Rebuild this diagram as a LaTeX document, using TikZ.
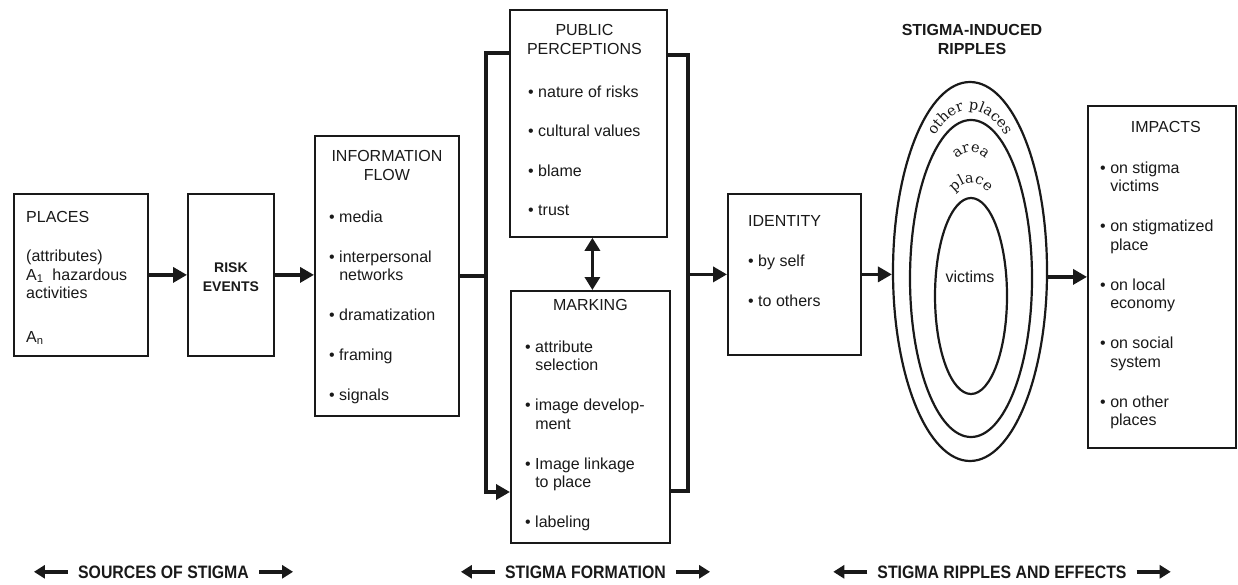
\documentclass[tikz,border=0pt]{standalone}
\usepackage{fontspec}
\setmainfont{Liberation Sans}
\newfontfamily\condfont[FakeStretch=0.88]{Liberation Sans}
\newfontfamily\ripfont{DejaVu Serif}
\usetikzlibrary{positioning,arrows.meta,shapes.geometric,decorations.text}
\colorlet{ink}{black!90}
\newcommand{\itm}{\textbullet\ }
\newcommand{\cont}{\hphantom{\textbullet\ }}
\tikzset{
    blok/.style={draw=ink,line width=1.8pt,anchor=north west,inner sep=0pt},
    ring/.style={draw=ink,ellipse,line width=2.2pt,inner sep=0pt},
    txt/.style={ink,inner sep=0pt,align=left,font=\fontsize{16}{18.5}\selectfont},
    ttl/.style={ink,inner sep=0pt,align=center,font=\fontsize{16}{19}\selectfont},
    arr/.style={ink,line width=3.5pt,-{Triangle[length=14pt,width=15pt]}},
    dbl/.style={ink,line width=3.5pt,{Triangle[length=13pt,width=15pt]}-{Triangle[length=13pt,width=15pt]}},
    brk/.style={ink,line width=4.5pt},
    side/.style={ink,line width=4pt,-{Triangle[length=11pt,width=13pt]}},
    zone/.style={ink,inner sep=0pt,anchor=base,font=\condfont\bfseries\fontsize{18}{18}\selectfont},
    curved/.style={decorate,decoration={text along path,text align=center,
        text={|\ripfont\fontsize{14.5}{14.5}\selectfont\color{ink}|#1}}}
}

\begin{document}
\begin{tikzpicture}[x=1pt,y=-1pt]
        \useasboundingbox (0,0) rectangle (1238,585);
        \node [blok,minimum width=134pt,minimum height=162pt] (places) at (13,193) {};
        \node [blok,minimum width=86pt,minimum height=162pt] (risk) at (187,193) {};
        \node [blok,minimum width=144pt,minimum height=280pt] (info) at (314,135) {};
        \node [blok,minimum width=157pt,minimum height=227pt] (pp) at (509,9) {};
        \node [blok,minimum width=159pt,minimum height=252pt] (marking) at (510,290) {};
        \node [blok,minimum width=133pt,minimum height=161pt] (identity) at (727,193) {};
        \node [blok,minimum width=148pt,minimum height=342pt] (impacts) at (1087,105) {};

        \node [txt,below right=18.5pt and 13pt of places.north west] (placestx)
            {PLACES\\[20.5pt](attributes)\\A\textsubscript{1}\ \ hazardous\\activities\\[25pt]A\textsubscript{n}};
        \node [ink,inner sep=0pt,align=center,font=\bfseries\fontsize{14}{19}\selectfont,
            yshift=-2.75pt] (risktx) at (risk.center) {RISK\\EVENTS};
        \node [ttl,below=15.5pt of info.north] (infottl) {INFORMATION\\FLOW};
        \node [txt,below right=75.3pt and 15pt of info.north west] (infotx)
            {\itm media\\[21.5pt]\itm interpersonal\\\cont networks\\[21.5pt]\itm dramatization\\[21.5pt]\itm framing\\[21.5pt]\itm signals};
        \node [ttl,below=15.5pt of pp.north,xshift=-4pt] (ppttl) {PUBLIC\\PERCEPTIONS};
        \node [txt,below right=76.3pt and 19pt of pp.north west] (pptx)
            {\itm nature of risks\\[21pt]\itm cultural values\\[21pt]\itm blame\\[21pt]\itm trust};
        \node [ttl,below=9.5pt of marking.north] (markttl) {MARKING};
        \node [txt,below right=50.3pt and 15pt of marking.north west] (marktx)
            {\itm attribute\\\cont selection\\[21.5pt]\itm image develop-\\\cont ment\\[21.5pt]\itm Image linkage\\\cont to place\\[21.5pt]\itm labeling};
        \node [txt,below right=22.5pt and 21pt of identity.north west] (idtx)
            {IDENTITY\\[21.5pt]\itm by self\\[21.5pt]\itm to others};
        \node [ttl,below=16.5pt of impacts.north,xshift=4pt] (impttl) {IMPACTS};
        \node [txt,below right=56.3pt and 13pt of impacts.north west] (imptx)
            {\itm on stigma\\\cont victims\\[21.5pt]\itm on stigmatized\\\cont place\\[21.5pt]\itm on local\\\cont economy\\[21.5pt]\itm on social\\\cont system\\[21.5pt]\itm on other\\\cont places};

        \node [ttl,font=\bfseries\fontsize{16}{19}\selectfont,anchor=north] (riptl) at (972,24.5)
            {STIGMA-INDUCED\\RIPPLES};
        \node [ring,minimum width=154pt,minimum height=379pt] (outer) at (970,271.5) {};
        \node [ring,minimum width=122pt,minimum height=317pt] (middle) at (971,278.5) {};
        \node [ring,minimum width=72pt,minimum height=196pt] (core) at (971,296) {};
        \node [txt] (victx) at (970,277) {victims};
        \path [curved={other places}] ([shift={(200:66 and 165)}]970,275)
            arc [start angle=200,end angle=340,x radius=66,y radius=165];
        \path [curved={area}] ([shift={(235:48 and 144)}]971,296)
            arc [start angle=235,end angle=305,x radius=48,y radius=144];
        \path [curved={place}] ([shift={(230:42 and 113)}]971,296)
            arc [start angle=230,end angle=310,x radius=42,y radius=113];

        \coordinate (lt) at (486,53);
        \coordinate (lb) at (486,492);
        \coordinate (rt) at (688,55);
        \coordinate (rb) at (688,491);
        \draw [arr] (places) -- (risk);
        \draw [arr] (risk.east) -- (risk.east -| info.west);
        \draw [brk,line width=3.5pt] (info.east) -- (info.east -| lt);
        \draw [brk,-{Triangle[length=14pt,width=15pt]}] (lt -| pp.west) -- (lt) -- (lb) -- (lb -| marking.west);
        \draw [brk] (rt -| pp.east) -- (rt) -- (rb) -- (rb -| marking.east);
        \draw [dbl] ([xshift=4pt]pp.south) -- ([xshift=4pt]pp.south |- marking.north);
        \draw [arr] (identity.west -| rt) -- (identity.west);
        \draw [arr] (identity.east) -- (identity.east -| outer.west);
        \draw [arr] (outer.east |- impacts.west) -- (impacts.west);

        \node [zone] (src) at (163.5,578) {SOURCES OF STIGMA};
        \node [zone] (form) at (585.5,578) {STIGMA FORMATION};
        \node [zone] (eff) at (1002,578) {STIGMA RIPPLES AND EFFECTS};
        \foreach \z in {src,form,eff} {
            \draw [side] ([xshift=-10pt]\z.west) -- ++(-34pt,0);
            \draw [side] ([xshift=10pt]\z.east) -- ++(34pt,0);
        }
    \end{tikzpicture}
\end{document}
